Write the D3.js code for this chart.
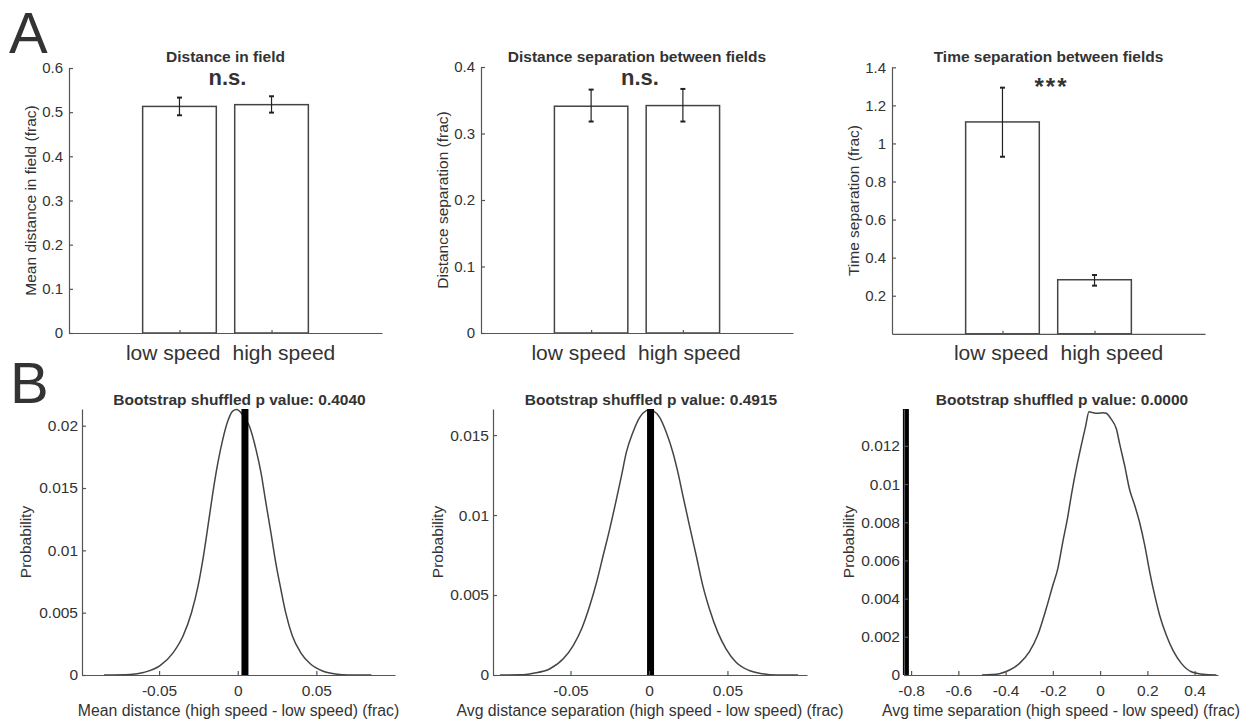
<!DOCTYPE html>
<html>
<head>
<meta charset="utf-8">
<script src="https://cdn.jsdelivr.net/npm/d3@7"></script>
<style>
  body { margin: 0; background: #fff; }
  svg text { font-family: "Liberation Sans", Arial, Helvetica, sans-serif; fill: #333; }
</style>
</head>
<body>
<svg id="fig" width="1248" height="724"></svg>
<script>
// ---- data ----
const categories = ["low speed", "high speed"];

// A: bar means with lower / upper error bar ends
const distInFieldMean = [0.513, 0.517];
const distInFieldLow  = [0.493, 0.499];
const distInFieldHigh = [0.533, 0.536];

const distSepMean = [0.341, 0.342];
const distSepLow  = [0.318, 0.318];
const distSepHigh = [0.366, 0.367];

const timeSepMean = [1.113, 0.284];
const timeSepLow  = [0.930, 0.253];
const timeSepHigh = [1.293, 0.309];

const yTicksA1 = [0, 0.1, 0.2, 0.3, 0.4, 0.5, 0.6];
const yTicksA2 = [0, 0.1, 0.2, 0.3, 0.4];
const yTicksA3 = [0.2, 0.4, 0.6, 0.8, 1, 1.2, 1.4];

// B: shuffled distributions (x = difference, y = probability)
const bootMeanDistX = [-0.085, -0.0684, -0.0599, -0.0494, -0.0410, -0.0347, -0.0294, -0.0252, -0.0221, -0.0189,
  -0.0158, -0.0126, -0.0095, -0.0063, -0.0032, -0.0006, 0.0030, 0.0074, 0.0116, 0.0148, 0.0179, 0.0211, 0.0242,
  0.0274, 0.0305, 0.0347, 0.0400, 0.0463, 0.0536, 0.0621, 0.0705, 0.085];
const bootMeanDistY = [0, 0.00005, 0.0002, 0.00075, 0.0018, 0.00315, 0.0050, 0.00715, 0.0093, 0.01196,
  0.01463, 0.01703, 0.0189, 0.02037, 0.02117, 0.0213, 0.0209, 0.01997, 0.0181, 0.01623, 0.01383, 0.01142, 0.0090,
  0.0069, 0.0050, 0.00315, 0.0018, 0.00088, 0.00034, 0.00008, 0, 0];

const bootDistSepX = [-0.095, -0.0821, -0.0737, -0.0631, -0.0546, -0.0483, -0.0429, -0.0377, -0.0334, -0.0292,
  -0.0250, -0.0207, -0.0175, -0.0144, -0.0102, -0.0059, -0.0017, 0.0004, 0.0025, 0.0068, 0.0110, 0.0152, 0.0184,
  0.0216, 0.0258, 0.0301, 0.0343, 0.0385, 0.0438, 0.0491, 0.0555, 0.0639, 0.0724, 0.0809, 0.095];
const bootDistSepY = [0, 0.00001, 0.00011, 0.00039, 0.00101, 0.00184, 0.00289, 0.00434, 0.0058, 0.00747,
  0.00914, 0.01101, 0.01247, 0.01393, 0.01518, 0.01611, 0.01653, 0.01659, 0.01653, 0.01611, 0.01518, 0.01393, 0.01268,
  0.01122, 0.00934, 0.00747, 0.00559, 0.00414, 0.00268, 0.00164, 0.0008, 0.00028, 0.00008, 0, 0];

const bootTimeSepX = [-0.50, -0.46, -0.426, -0.383, -0.341, -0.299, -0.264, -0.228, -0.200, -0.179, -0.158, -0.136,
  -0.122, -0.101, -0.080, -0.061, -0.047, -0.031, -0.009, 0.012, 0.026, 0.047, 0.069, 0.083, 0.104, 0.125, 0.146,
  0.167, 0.189, 0.210, 0.231, 0.252, 0.280, 0.308, 0.344, 0.386, 0.436, 0.492];
const bootTimeSepY = [0, 0.00002, 0.00007, 0.00026, 0.00061, 0.00122, 0.00209, 0.00348, 0.0047, 0.00557, 0.00696, 0.00835,
  0.0094, 0.01079, 0.01201, 0.01305, 0.01378, 0.01374, 0.01371, 0.01374, 0.01371, 0.0134, 0.01288, 0.01209, 0.01096, 0.0097, 0.0089,
  0.0080, 0.00679, 0.00539, 0.00418, 0.00313, 0.00209, 0.0013, 0.00061, 0.00017, 0.00004, 0];

const observedDiff = [0.0046, 0.001, -0.822];
const pValues = ["0.4040", "0.4915", "0.0000"];

const yTicksB1 = [0, 0.005, 0.01, 0.015, 0.02];
const yTicksB2 = [0, 0.005, 0.01, 0.015];
const yTicksB3 = [0, 0.002, 0.004, 0.006, 0.008, 0.01, 0.012];
const xTicksB12 = [-0.05, 0, 0.05];
const xTicksB3 = [-0.8, -0.6, -0.4, -0.2, 0, 0.2, 0.4];

// ---- drawing ----
const svg = d3.select("#fig");
const axisColor = "#555";

function styleAxis(sel, fontSize) {
  sel.select(".domain").attr("stroke", axisColor).attr("stroke-width", 1.2);
  sel.selectAll(".tick line").attr("stroke", axisColor).attr("stroke-width", 1.2);
  sel.selectAll(".tick text").attr("fill", "#333").style("font-size", fontSize + "px");
}

function drawBarPanel(p) {
  const g = svg.append("g");
  const x = d3.scaleLinear().domain([-0.2, 3.2]).range([p.left, p.right]);
  const y = d3.scaleLinear().domain([0, p.yMax]).range([p.bottom, p.top]);
  const rows = p.mean.map((m, i) => ({pos: i + 1, m: m, lo: p.low[i], hi: p.high[i]}));

  g.selectAll("rect").data(rows).join("rect")
    .attr("x", d => x(d.pos - 0.4))
    .attr("width", x(0.8) - x(0))
    .attr("y", d => y(d.m))
    .attr("height", d => y(0) - y(d.m))
    .attr("fill", "#fff").attr("stroke", "#444").attr("stroke-width", 1.5);

  // error bars
  const eb = g.selectAll("g.err").data(rows).join("g").attr("class", "err");
  eb.append("line")
    .attr("x1", d => x(d.pos)).attr("x2", d => x(d.pos))
    .attr("y1", d => y(d.lo)).attr("y2", d => y(d.hi))
    .attr("stroke", "#222").attr("stroke-width", 1.2);
  ["lo", "hi"].forEach(k => {
    eb.append("line")
      .attr("x1", d => x(d.pos) - 2.5).attr("x2", d => x(d.pos) + 2.5)
      .attr("y1", d => y(d[k])).attr("y2", d => y(d[k]))
      .attr("stroke", "#222").attr("stroke-width", 2);
  });

  const ya = g.append("g").attr("transform", `translate(${p.left},0)`)
    .call(d3.axisLeft(y).tickValues(p.yTicks).tickFormat(d => String(d))
      .tickSizeInner(-4).tickSizeOuter(0).tickPadding(6));
  styleAxis(ya, 15);

  const xa = g.append("g").attr("transform", `translate(0,${p.bottom})`)
    .call(d3.axisBottom(x).tickValues(rows.map(d => d.pos)).tickFormat("")
      .tickSizeInner(-3).tickSizeOuter(0));
  styleAxis(xa, 15);

  const mid = (x(1) + x(2)) / 2 + p.labelDx;
  g.append("text").attr("x", mid - 6).attr("y", 360).attr("text-anchor", "end")
    .style("font-size", "21px").text(categories[0]);
  g.append("text").attr("x", mid + 6).attr("y", 360).attr("text-anchor", "start")
    .style("font-size", "21px").text(categories[1]);

  const cx = (p.left + p.right) / 2;
  g.append("text").attr("x", cx).attr("y", 62).attr("text-anchor", "middle")
    .style("font-size", "15.5px").style("font-weight", "bold").attr("fill", "#222").text(p.title);
  g.append("text").attr("x", cx + p.sigDx).attr("y", p.sig === "***" ? 95 : 85).attr("text-anchor", "middle")
    .style("font-size", p.sig === "***" ? "24px" : "22px").style("font-weight", "bold")
    .style("letter-spacing", p.sig === "***" ? "2px" : "0px")
    .attr("fill", "#111").text(p.sig);

  g.append("text")
    .attr("transform", `translate(${p.ylabelX},${(p.top + p.bottom) / 2}) rotate(-90)`)
    .attr("dy", "0.35em").attr("text-anchor", "middle")
    .style("font-size", "15.5px").text(p.ylabel);
}

function drawBootPanel(p) {
  const g = svg.append("g");
  const top = 409, bottom = 675;
  const x = d3.scaleLinear().domain(p.xlim).range([p.left, p.right]);
  const y = d3.scaleLinear().domain([0, p.yMax]).range([bottom, top]);
  const pts = p.xs.map((v, i) => [v, p.ys[i]]);

  g.append("path").datum(pts)
    .attr("d", d3.line().x(d => x(d[0])).y(d => y(d[1])).curve(d3.curveMonotoneX))
    .attr("fill", "none").attr("stroke", "#444").attr("stroke-width", 1.5);

  g.append("line")
    .attr("x1", x(p.observed)).attr("x2", x(p.observed))
    .attr("y1", y(0)).attr("y2", y(p.yMax))
    .attr("stroke", "#000").attr("stroke-width", p.obsWidth);

  const ya = g.append("g").attr("transform", `translate(${p.left},0)`)
    .call(d3.axisLeft(y).tickValues(p.yTicks).tickFormat(d => String(d))
      .tickSizeInner(-4).tickSizeOuter(0).tickPadding(4));
  styleAxis(ya, 15.5);

  const xa = g.append("g").attr("transform", `translate(0,${bottom})`)
    .call(d3.axisBottom(x).tickValues(p.xTicks).tickFormat(d => String(d))
      .tickSizeInner(-4).tickSizeOuter(0).tickPadding(10));
  styleAxis(xa, 15.5);

  const cx = (p.left + p.right) / 2;
  g.append("text").attr("x", cx + 1).attr("y", 404.5).attr("text-anchor", "middle")
    .style("font-size", "15.5px").style("font-weight", "bold").attr("fill", "#222")
    .text("Bootstrap shuffled p value: " + p.pValue);

  g.append("text").attr("x", cx).attr("y", 716).attr("text-anchor", "middle")
    .style("font-size", "15.8px").text(p.xlabel);

  g.append("text")
    .attr("transform", `translate(${p.ylabelX},${(top + bottom) / 2}) rotate(-90)`)
    .attr("dy", "0.35em").attr("text-anchor", "middle")
    .style("font-size", "15.5px").text("Probability");
}

drawBarPanel({title: "Distance in field", sig: "n.s.", ylabel: "Mean distance in field (frac)",
  mean: distInFieldMean, low: distInFieldLow, high: distInFieldHigh, yTicks: yTicksA1, yMax: 0.6,
  left: 69, right: 382, top: 68, bottom: 333, ylabelX: 31, labelDx: 1, sigDx: 2});
drawBarPanel({title: "Distance separation between fields", sig: "n.s.", ylabel: "Distance separation (frac)",
  mean: distSepMean, low: distSepLow, high: distSepHigh, yTicks: yTicksA2, yMax: 0.4,
  left: 481, right: 793, top: 67, bottom: 333, ylabelX: 442.5, labelDx: -5, sigDx: 3});
drawBarPanel({title: "Time separation between fields", sig: "***", ylabel: "Time separation (frac)",
  mean: timeSepMean, low: timeSepLow, high: timeSepHigh, yTicks: yTicksA3, yMax: 1.4,
  left: 892, right: 1205, top: 67.3, bottom: 333.8, ylabelX: 854, labelDx: 6, sigDx: 3});

drawBootPanel({xs: bootMeanDistX, ys: bootMeanDistY, observed: observedDiff[0], pValue: pValues[0],
  xlim: [-0.099, 0.1], yMax: 0.02134, yTicks: yTicksB1, xTicks: xTicksB12, obsWidth: 7,
  left: 82, right: 395, ylabelX: 26, xlabel: "Mean distance (high speed - low speed) (frac)"});
drawBootPanel({xs: bootDistSepX, ys: bootDistSepY, observed: observedDiff[1], pValue: pValues[1],
  xlim: [-0.0994, 0.1007], yMax: 0.01663, yTicks: yTicksB2, xTicks: xTicksB12, obsWidth: 7,
  left: 493, right: 807, ylabelX: 437.5, xlabel: "Avg distance separation (high speed - low speed) (frac)"});
drawBootPanel({xs: bootTimeSepX, ys: bootTimeSepY, observed: observedDiff[2], pValue: pValues[2],
  xlim: [-0.83, 0.499], yMax: 0.01393, yTicks: yTicksB3, xTicks: xTicksB3, obsWidth: 6,
  left: 904, right: 1218, ylabelX: 849, xlabel: "Avg time separation (high speed - low speed) (frac)"});

// panel letters
svg.append("text").attr("x", 9).attr("y", 53).style("font-size", "58px").attr("fill", "#000").text("A");
svg.append("text").attr("x", 10).attr("y", 403).style("font-size", "58px").attr("fill", "#000").text("B");
</script>
</body>
</html>
